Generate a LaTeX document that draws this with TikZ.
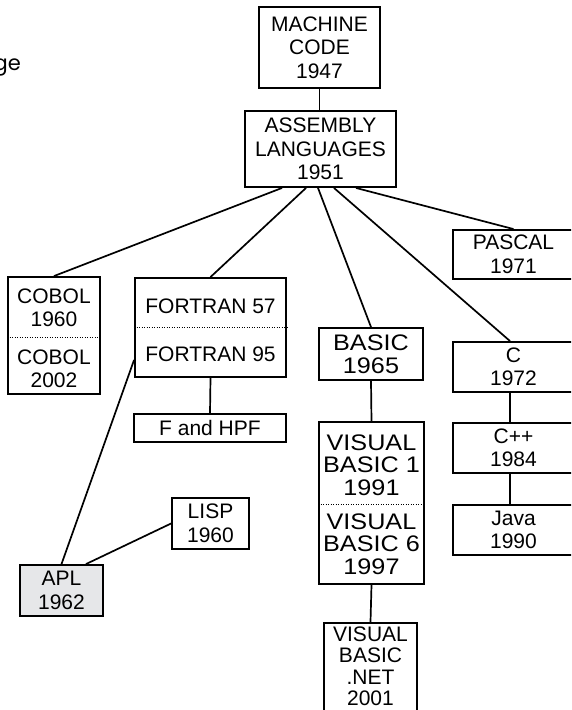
\documentclass[tikz,border=0pt]{standalone}
\usepackage{fontspec}
\setmainfont{Liberation Sans}
\newfontfamily\widefont[FakeStretch=1.12]{Liberation Sans}
\newfontfamily\headfont{Poppins}
\usepackage{xcolor}
\definecolor{aplgray}{RGB}{230,231,233}

\tikzset{
    box/.style={draw, line width=1.9pt, inner sep=0pt, align=center,
        font=\fontsize{21}{23.5}\selectfont},
    txt/.style={inner sep=0pt, align=center, font=\fontsize{21}{23.5}\selectfont},
    wide/.style={font=\widefont\fontsize{22.5}{22.5}\selectfont},
    link/.style={line width=1.7pt},
    split/.style={line width=1pt, dash pattern=on 1pt off 1.5pt},
}

\begin{document}
\begin{tikzpicture}[x=1pt, y=-1pt]
    \useasboundingbox (0,0) rectangle (571,710);
    \clip (0,0) rectangle (571,710);
    % cut-off heading
    \node[anchor=base east, inner sep=0pt, font=\headfont\fontsize{21}{21}\selectfont] (head) at (21,70) {ge};

    % top
    \node[box, minimum width=121pt, minimum height=81pt] (mc) at (319.5,47.5) {MACHINE\\CODE\\1947};
    \node[box, minimum width=151pt, minimum height=76pt] (asm) at (320.5,149) {ASSEMBLY\\LANGUAGES\\1951};

    % COBOL
    \node[box, minimum width=92pt, minimum height=117pt] (cobol) at (54,335.5) {};
    \node[txt] (cobolA) at (54,308) {COBOL\\1960};
    \node[txt] (cobolB) at (54,369) {COBOL\\2002};
    \draw[split] ([yshift=-1.5pt]cobol.west) -- ([yshift=-1.5pt]cobol.east);

    % FORTRAN
    \node[box, minimum width=151pt, minimum height=99pt] (fortran) at (210.5,327.5) {};
    \node[txt] (fortranA) at (210.5,306) {FORTRAN 57};
    \node[txt] (fortranB) at (210.5,354) {FORTRAN 95};
    \draw[split] ([yshift=0.5pt]fortran.west) -- ([yshift=0.5pt]fortran.east);
    \node[box, minimum width=152pt, minimum height=28pt] (fhpf) at (210,428) {F and HPF};

    \node[box, minimum width=77pt, minimum height=51pt] (lisp) at (210.5,523.5) {LISP\\1960};
    \node[box, fill=aplgray, minimum width=83pt, minimum height=51pt] (apl) at (61.5,590.5) {APL\\1962};

    % BASIC
    \node[box, wide, minimum width=104pt, minimum height=52pt] (basic) at (371,354) {BASIC\\1965};
    \node[box, minimum width=105pt, minimum height=162pt] (vb) at (371.5,503) {};
    \node[txt, wide] (vbA) at (371.5,465) {VISUAL\\BASIC 1\\1991};
    \node[txt, wide] (vbB) at (371.5,544) {VISUAL\\BASIC 6\\1997};
    \draw[split] ([yshift=-1pt]vb.west) -- ([yshift=-1pt]vb.east);
    \node[box, minimum width=93pt, minimum height=90pt] (vbnet) at (370.5,668) {};
    \node[txt, font=\fontsize{21}{21.5}\selectfont] (vbnetT) at (370.5,666.5) {VISUAL\\BASIC\\.NET\\2001};

    % right column
    \node[box, minimum width=121pt, minimum height=49pt] (pascal) at (513.5,254.5) {PASCAL\\1971};
    \foreach \name/\y/\txt in {c/367/{C\\1972}, cpp/448/{C++\\1984}, java/530/{Java\\1990}} {
        \node[box, minimum width=121pt, minimum height=50pt] (\name) at (513.5,\y) {\txt};
    }

    % links
    \draw[link] (mc.south) -- (mc.south |- asm.north);
    \draw[link] ([xshift=-38.5pt]asm.south) -- (cobol.north);
    \draw[link] ([xshift=-14.5pt]asm.south) -- (fortran.north);
    \draw[link] ([xshift=-2.5pt]asm.south) -- (basic.north);
    \draw[link] ([xshift=13.5pt]asm.south) -- ([xshift=-3.5pt]c.north);
    \draw[link] ([xshift=35.5pt]asm.south) -- (pascal.north);
    \draw[link] (fortran.south) -- (fhpf.north);
    \draw[link] ([yshift=-32.5pt]fortran.west) -- (apl.north);
    \draw[link] (lisp.west) -- ([xshift=24.5pt]apl.north);
    \draw[link] (basic.south) -- (vb.north);
    \draw[link] (vb.south) -- (vbnet.north);
    \draw[link] ([xshift=-3.5pt]c.south) -- ([xshift=-3.5pt]cpp.north);
    \draw[link] ([xshift=-3.5pt]cpp.south) -- ([xshift=-3.5pt]java.north);
\end{tikzpicture}
\end{document}
